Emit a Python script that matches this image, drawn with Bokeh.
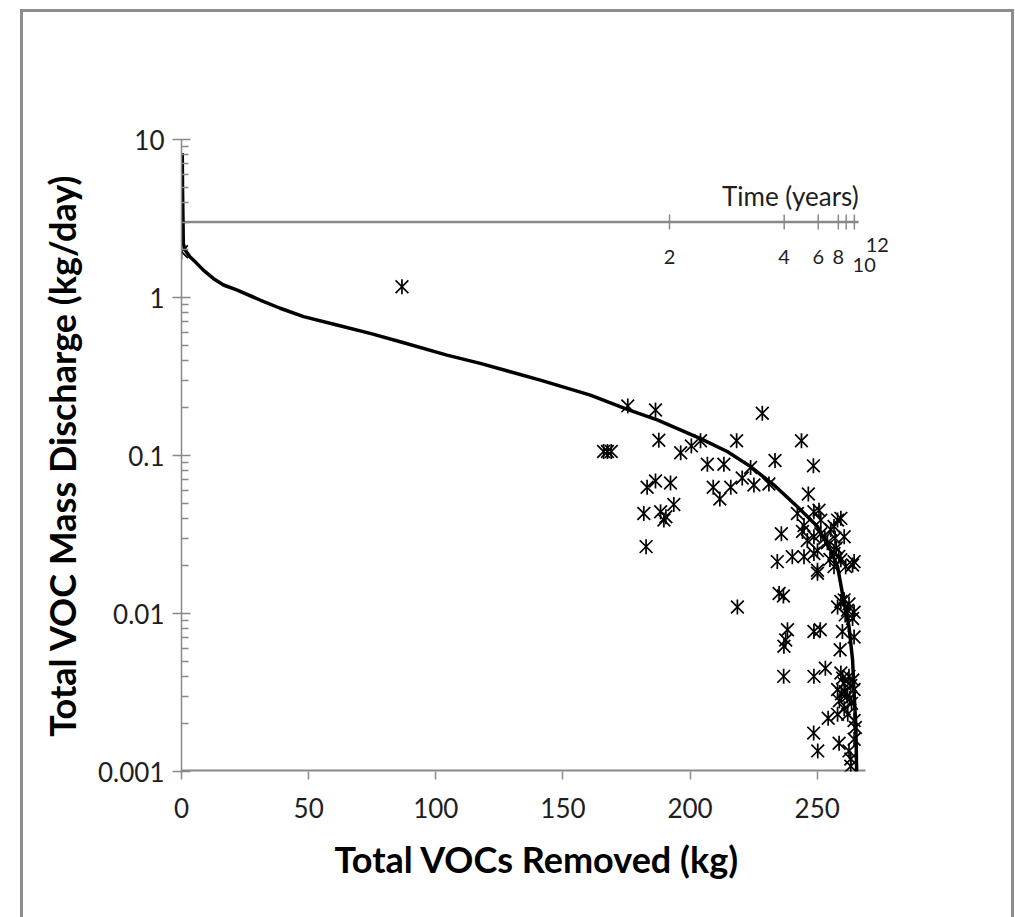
import math
from bokeh.plotting import figure
from bokeh.models import Range1d, FixedTicker, CustomJSTickFormatter, LabelSet, ColumnDataSource
from bokeh.core.properties import value
from bokeh.embed import file_html
from bokeh.resources import INLINE

# ---- data ----
curve_kg = [0.3, 0.4, 0.6, 0.7, 1.4, 3.3, 6.0, 8.6, 12.5, 16.5, 21.7, 30.9, 38.8, 48.0, 61.1,
            74.2, 86.0, 104.4, 117.5, 129.3, 141.1, 160.8, 167.4, 175.3, 187.1, 204.1, 214.6,
            223.8, 233.0, 242.2, 250.1, 255.3, 258.0, 259.9, 262.5, 263.9, 264.5, 265.2, 265.5]
curve_rate = [8.2, 5.0, 3.0, 2.2, 2.0, 1.81, 1.645, 1.49, 1.32, 1.2, 1.116, 0.964, 0.855, 0.757, 0.67,
              0.593, 0.525, 0.432, 0.383, 0.339, 0.30, 0.241, 0.219, 0.196, 0.168, 0.128, 0.106,
              0.085, 0.065, 0.0474, 0.0355, 0.025, 0.0198, 0.0134, 0.00824, 0.00508, 0.00313, 0.00192, 0.001]

obs_kg = [0, 86.7,
          175.5, 186.4, 228.4, 166.0, 167.5, 169.0, 187.7, 196.3, 200.5, 204.1, 218.3, 243.8,
          206.8, 213.3, 223.8, 233.4, 248.5, 186.4, 183.1, 192.3, 220.5, 209.1, 216.0, 225.1, 231.0,
          211.7, 193.6, 181.8, 188.4, 189.7, 190.5, 182.7, 246.5, 235.9, 242.2, 250.7, 259.3,
          244.8, 251.4, 256.6, 246.1, 254.0, 248.7, 234.3, 240.2, 244.8, 264.5,
          248.7, 251.4, 258.0, 244.2, 248.7, 255.3, 250.1, 256.6, 259.3, 260.6, 256.6, 250.1, 261.2,
          250.1, 263.9, 257.5, 258.5, 255.0, 253.0, 257.0,
          235.0, 236.7, 218.6,
          259.3, 261.9, 263.9, 258.0, 260.6, 262.5, 264.5, 261.0,
          238.3, 237.6, 236.9, 248.7, 251.2, 259.9, 264.5, 259.0,
          236.8, 248.7, 253.2,
          259.3, 260.6, 263.2, 258.0, 261.9, 264.5, 260.0, 262.5, 258.7, 263.5, 261.0, 264.0, 259.5, 262.8,
          254.3, 258.0, 264.5, 260.6, 262.0,
          248.6, 250.2, 258.6, 262.5, 263.2, 263.2, 264.5, 265.0]
obs_rate = [1.95, 1.17,
            0.206, 0.194, 0.185, 0.106, 0.106, 0.106, 0.125, 0.104, 0.115, 0.124, 0.124, 0.124,
            0.088, 0.088, 0.084, 0.093, 0.086, 0.069, 0.063, 0.067, 0.072, 0.063, 0.063, 0.065, 0.066,
            0.053, 0.049, 0.043, 0.044, 0.039, 0.041, 0.0265, 0.057, 0.032, 0.043, 0.045, 0.040,
            0.036, 0.032, 0.0355, 0.029, 0.028, 0.024, 0.0213, 0.0229, 0.0229, 0.0213,
            0.044, 0.039, 0.039, 0.033, 0.0306, 0.034, 0.025, 0.024, 0.0219, 0.0306, 0.0198, 0.018, 0.0198,
            0.0188, 0.0203, 0.026, 0.023, 0.022, 0.030, 0.030,
            0.0134, 0.0129, 0.011,
            0.0119, 0.0105, 0.0093, 0.011, 0.0122, 0.0115, 0.0102, 0.0098,
            0.0079, 0.0068, 0.0062, 0.0077, 0.0079, 0.0077, 0.0071, 0.0059,
            0.0040, 0.0040, 0.0045,
            0.0042, 0.0036, 0.0035, 0.0033, 0.0030, 0.0033, 0.0039, 0.0040, 0.0028, 0.0027, 0.0032, 0.0038, 0.0031, 0.0029,
            0.00217, 0.0023, 0.0021, 0.0025, 0.0023,
            0.00175, 0.00135, 0.00151, 0.00135, 0.0012, 0.00108, 0.0016, 0.0019]

time_years = [0, 2, 4, 6, 8, 10, 12]
time_kg = [0, 191.9, 237.0, 250.4, 258.3, 261.4, 264.6]
time_labels = ["", "2", "4", "6", "8", "10", "12"]
time_axis_level = 3.0
time_axis_end = 266.3

x_ticks = [0, 50, 100, 150, 200, 250]
y_ticks = [0.001, 0.01, 0.1, 1, 10]
x_axis_end = 269          # where the drawn kg axis stops
x_view_end = 279.6        # a little room to the right for the time labels

# ---- styling ----
AXIS_GRAY = "#898989"
BORDER_GRAY = "#8c8c8c"
FONT = "Lato"
TXT = "#1e1e1e"

p = figure(width=1015, height=917,
           x_range=Range1d(0, x_view_end), y_range=Range1d(0.001, 10),
           y_axis_type="log", output_backend="svg", toolbar_location=None,
           min_border_left=181, min_border_right=123,
           min_border_top=139, min_border_bottom=146)
p.outline_line_color = None
p.grid.visible = False
p.background_fill_color = "white"
p.border_fill_color = None
g = f"linear-gradient({BORDER_GRAY}, {BORDER_GRAY})"
p.styles = {"background": f"{g} 20px 9px / 3px 920px no-repeat, "
                          f"{g} 20px 9px / 994px 3px no-repeat, "
                          f"{g} 1011px 9px / 3px 920px no-repeat, #ffffff"}

minor = [m * 10.0 ** k for k in range(-3, 1) for m in range(2, 10)]
ya = p.yaxis[0]
ya.ticker = FixedTicker(ticks=y_ticks, minor_ticks=minor)
ya.formatter = CustomJSTickFormatter(code="return Number(tick.toPrecision(6)).toString()")
ya.axis_line_color = AXIS_GRAY
ya.axis_line_width = 1.5
ya.major_tick_line_color = AXIS_GRAY
ya.major_tick_line_width = 1.5
ya.minor_tick_line_color = AXIS_GRAY
ya.minor_tick_line_width = 1.5
ya.major_tick_in = 9
ya.major_tick_out = 9
ya.minor_tick_in = 7
ya.minor_tick_out = 0
ya.major_label_text_font = FONT
ya.major_label_text_font_size = "26px"
ya.major_label_text_color = TXT
ya.major_label_standoff = 8
ya.axis_label = "Total VOC Mass Discharge (kg/day)"
ya.axis_label_text_font = FONT
ya.axis_label_text_font_style = "bold"
ya.axis_label_text_font_size = "36px"
ya.axis_label_text_color = "#000000"
ya.axis_label_standoff = 11

xa = p.xaxis[0]
xa.ticker = FixedTicker(ticks=x_ticks, minor_ticks=[])
xa.axis_line_color = None
xa.major_tick_line_color = AXIS_GRAY
xa.major_tick_line_width = 1.5
xa.major_tick_in = 0
xa.major_tick_out = 8
xa.major_label_text_font = FONT
xa.major_label_text_font_size = "26px"
xa.major_label_text_color = TXT
xa.major_label_standoff = 18
xa.axis_label = "Total VOCs Removed (kg)"
xa.axis_label_text_font = FONT
xa.axis_label_text_font_style = "bold"
xa.axis_label_text_font_size = "36px"
xa.axis_label_text_color = "#000000"
xa.axis_label_standoff = 16

# kg axis line, stopping where the original axis stops
p.line(x=[0, x_axis_end], y=[y_ticks[0], y_ticks[0]], line_color=AXIS_GRAY, line_width=4)

# secondary "time" axis drawn at a fixed discharge level
p.line(x=[0, time_axis_end], y=[time_axis_level, time_axis_level],
       line_color=AXIS_GRAY, line_width=2.5)
p.scatter(x=time_kg, y=[time_axis_level] * len(time_kg), marker="dash",
          angle=math.pi / 2, size=15, line_color=AXIS_GRAY, line_width=1.5)

# model curve
p.line(x=curve_kg, y=curve_rate, line_color="black", line_width=3.5)

# observations: Excel-like star = x + vertical bar
p.scatter(x=obs_kg, y=obs_rate, marker="x", size=18, line_color="black", line_width=1.7)
p.scatter(x=obs_kg, y=obs_rate, marker="dash", angle=math.pi / 2, size=15,
          line_color="black", line_width=1.7)

# time labels
lab_dx = [0, 0, 0, 0, 18, 23]
lab_dy = [-35, -35, -35, -35, -43, -23]
tsrc = ColumnDataSource(dict(x=time_kg[1:], y=[time_axis_level] * (len(time_kg) - 1),
                             text=time_labels[1:], dx=lab_dx, dy=lab_dy))
p.add_layout(LabelSet(x="x", y="y", text="text", x_offset="dx", y_offset="dy", source=tsrc,
                      text_align="center", text_baseline="middle",
                      text_font=value(FONT), text_font_size="20px", text_color=TXT))
tsrc2 = ColumnDataSource(dict(x=[time_axis_end], y=[time_axis_level], text=["Time (years)"]))
p.add_layout(LabelSet(x="x", y="y", text="text", y_offset=26, source=tsrc2,
                      text_align="right", text_baseline="middle",
                      text_font=value(FONT), text_font_size="26px", text_color=TXT))

open("out.html", "w").write(file_html(p, INLINE))
